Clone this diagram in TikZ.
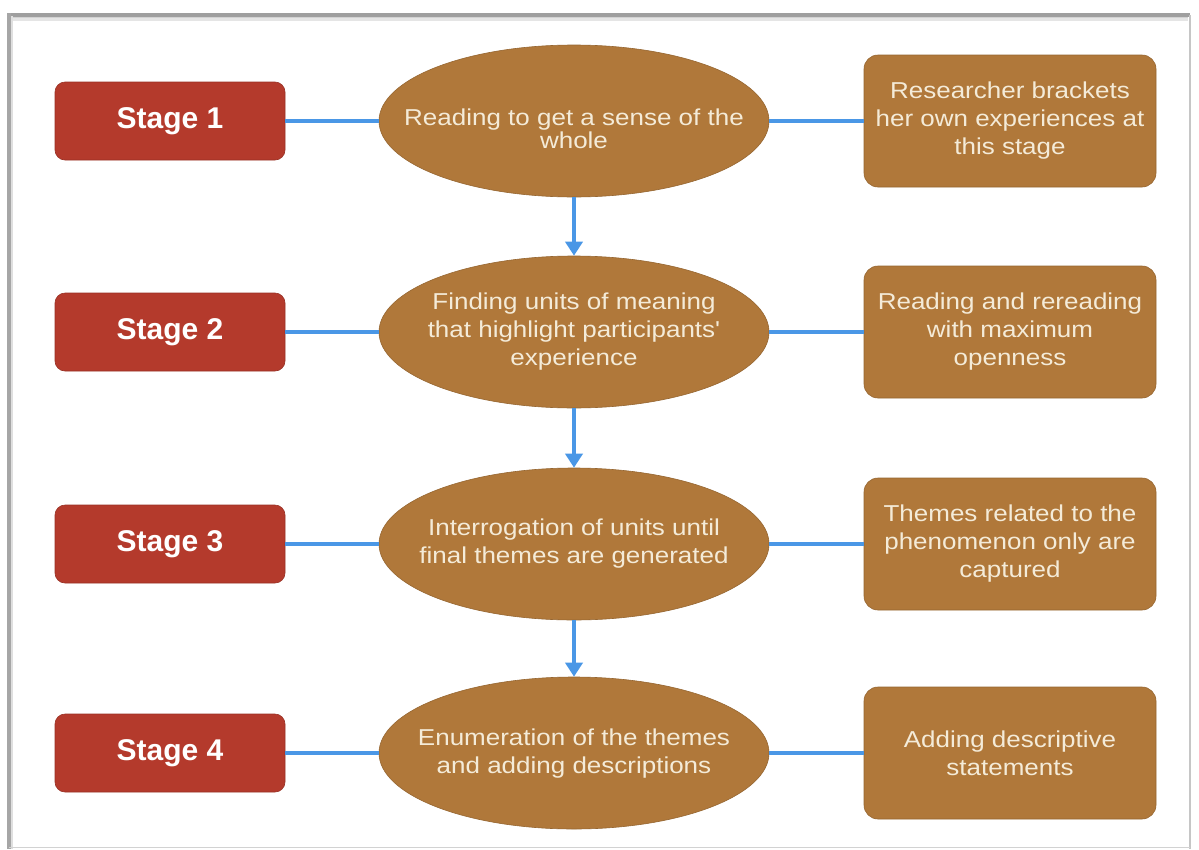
\documentclass[tikz,border=0pt]{standalone}
\usepackage{fontspec}
\setmainfont{Liberation Sans}
\newfontfamily\widefont[FakeStretch=1.13]{Liberation Sans}
\usetikzlibrary{shapes.geometric,arrows.meta}
\definecolor{stagered}{HTML}{B43A2C}
\definecolor{brownfill}{HTML}{B0783A}
\definecolor{cream}{HTML}{F4EBD8}
\definecolor{linkblue}{HTML}{4A97E6}
\tikzset{
  stagebox/.style={draw=stagered!85!black, line width=0.6pt, fill=stagered, rounded corners=10pt,
    minimum width=230pt, minimum height=78pt, inner sep=0pt,
    text=white, font=\fontsize{30}{34}\selectfont\bfseries},
  oval/.style={ellipse, draw=brownfill!85!black, line width=0.6pt, fill=brownfill,
    minimum width=390pt, minimum height=152pt, inner sep=0pt},
  ovaltext/.style={inner sep=0pt, text=cream, align=center, font=\widefont\fontsize{23}{28}\selectfont},
  notebox/.style={draw=brownfill!85!black, line width=0.6pt, fill=brownfill, rounded corners=14pt,
    minimum width=292pt, minimum height=132pt, inner sep=0pt,
    text=cream, align=center, font=\widefont\fontsize{23}{28}\selectfont},
  link/.style={draw=linkblue, line width=3.8pt},
  flow/.style={draw=linkblue, line width=3.8pt, -{Triangle[width=17pt,length=14pt]}},
}
\begin{document}
\begin{tikzpicture}[x=1pt,y=-1pt]
\useasboundingbox (0,0) rectangle (1199,849);
\fill[white] (0,0) rectangle (1199,849);
% frame with shadow
\draw[gray!20, line width=3pt] (12,19) -- (1188,19);
\draw[gray!35, line width=2.5pt] (13,17) -- (1188,17);
\draw[gray!75, line width=3.5pt] (9,15) -- (1190,15);
\draw[gray!70, line width=4pt] (9,13) -- (9,849);
\draw[gray!25, line width=2pt] (12,16) -- (12,849);
\draw[gray!45, line width=2.5pt] (1190,15) -- (1190,849);
\draw[gray!35, line width=1.5pt] (9,847.5) -- (1190,847.5);

% stages
\node[stagebox] (s1) at (170,121) {Stage 1};
\node[stagebox] (s2) at (170,332) {Stage 2};
\node[stagebox] (s3) at (170,544) {Stage 3};
\node[stagebox] (s4) at (170,753) {Stage 4};

% ovals
\node[oval] (e1) at (574,121) {};
\node[oval] (e2) at (574,332) {};
\node[oval] (e3) at (574,544) {};
\node[oval] (e4) at (574,753) {};
\node[ovaltext, font=\widefont\fontsize{23}{23}\selectfont] (t1) at ([yshift=-8pt]e1.center) {Reading to get a sense of the\\whole};
\node[ovaltext] (t2) at (e2.center) {Finding units of meaning\\that highlight participants'\\experience};
\node[ovaltext] (t3) at (e3.center) {Interrogation of units until\\final themes are generated};
\node[ovaltext] (t4) at ([yshift=-1pt]e4.center) {Enumeration of the themes\\and adding descriptions};

% notes
\node[notebox] (n1) at (1010,121) {Researcher brackets\\her own experiences at\\this stage};
\node[notebox] (n2) at (1010,332) {Reading and rereading\\with maximum\\openness};
\node[notebox] (n3) at (1010,544) {Themes related to the\\phenomenon only are\\captured};
\node[notebox] (n4) at (1010,753) {Adding descriptive\\statements};

% connectors
\foreach \i in {1,2,3,4}{
  \draw[link] (s\i.east) -- (e\i.west);
  \draw[link] (e\i.east) -- (n\i.west);
}
\draw[flow] (e1.south) -- (e2.north);
\draw[flow] (e2.south) -- (e3.north);
\draw[flow] (e3.south) -- (e4.north);
\end{tikzpicture}
\end{document}
